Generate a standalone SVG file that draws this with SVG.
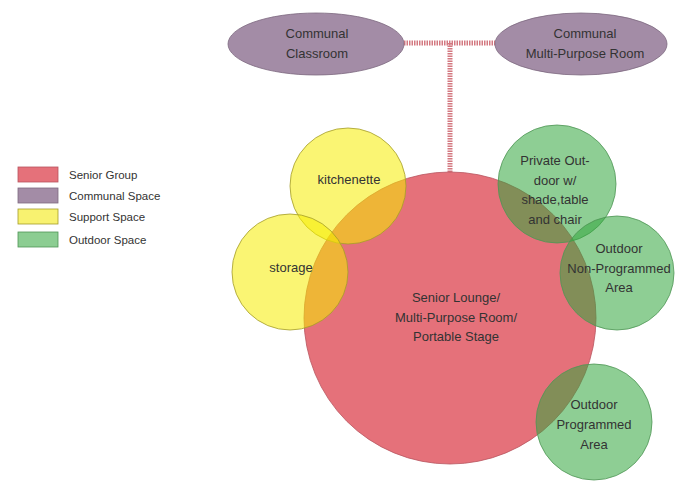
<svg xmlns="http://www.w3.org/2000/svg" width="675" height="483" viewBox="0 0 675 483">
<style>
text{font-family:"Liberation Sans",Arial,sans-serif;font-size:13px;fill:#333;text-anchor:middle;dominant-baseline:central}
.lg{text-anchor:start;font-size:11.5px}
.red{fill:#e5717a;stroke:#b8545e;stroke-width:0.8}
.pur{fill:#a38ca6;stroke:#7d6a80;stroke-width:0.8}
.yel{fill:#f5ec00;fill-opacity:0.55;stroke:#a39c2a;stroke-width:0.8}
.grn{fill:#32a53c;fill-opacity:0.55;stroke:#4f9556;stroke-width:0.8}
.conn{stroke:#d37880;stroke-width:5;stroke-dasharray:1.5 1;fill:none}
</style>
<rect width="675" height="483" fill="#fff"/>
<g id="legend">
<rect x="18" y="167" width="40" height="15" class="red"/>
<text class="lg" x="69" y="174.5">Senior Group</text>
<rect x="18" y="188" width="40" height="15" class="pur"/>
<text class="lg" x="69" y="195.5">Communal Space</text>
<rect x="18" y="209" width="40" height="15" fill="#f8f270" stroke="#a39c2a" stroke-width="0.8"/>
<text class="lg" x="69" y="216.5">Support Space</text>
<rect x="18" y="232" width="40" height="15" fill="#8ccd92" stroke="#4f9556" stroke-width="0.8"/>
<text class="lg" x="69" y="239.5">Outdoor Space</text>
</g>
<g id="connectors">
<line class="conn" x1="404" y1="43" x2="495" y2="43"/>
<line class="conn" x1="450" y1="43" x2="450" y2="173"/>
</g>
<g id="classroom">
<ellipse class="pur" cx="316" cy="44" rx="88" ry="31"/>
<text x="317" y="33">Communal</text>
<text x="317" y="53">Classroom</text>
</g>
<g id="mpr">
<ellipse class="pur" cx="581" cy="44" rx="86" ry="31"/>
<text x="585" y="33">Communal</text>
<text x="585" y="53">Multi-Purpose Room</text>
</g>
<g id="lounge">
<circle class="red" cx="450" cy="318" r="146"/>
</g>
<g id="kitchenette">
<circle class="yel" cx="348" cy="186" r="58"/>
<text x="349" y="179">kitchenette</text>
</g>
<g id="storage">
<circle class="yel" cx="290" cy="272" r="58"/>
<text x="291" y="267">storage</text>
</g>
<g id="private-outdoor">
<circle class="grn" cx="557" cy="184" r="59"/>
<text x="555" y="160">Private Out-</text>
<text x="555" y="180">door w/</text>
<text x="555" y="199.5">shade,table</text>
<text x="555" y="219">and chair</text>
</g>
<g id="outdoor-nonprog">
<circle class="grn" cx="617" cy="273" r="57"/>
<text x="619" y="248">Outdoor</text>
<text x="619" y="268">Non-Programmed</text>
<text x="619" y="287.5">Area</text>
</g>
<g id="outdoor-prog">
<circle class="grn" cx="594" cy="422" r="58"/>
<text x="594" y="404.5">Outdoor</text>
<text x="594" y="424">Programmed</text>
<text x="594" y="444">Area</text>
</g>
<g id="lounge-label">
<text x="456" y="297">Senior Lounge/</text>
<text x="456" y="317">Multi-Purpose Room/</text>
<text x="456" y="336.5">Portable Stage</text>
</g>
</svg>
